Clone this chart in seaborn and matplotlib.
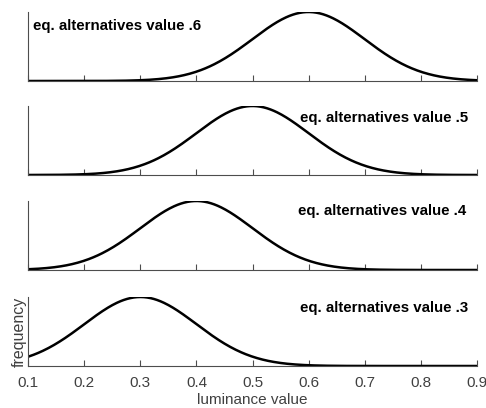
import numpy as np
import pandas as pd
import matplotlib
matplotlib.use("Agg")
import matplotlib.pyplot as plt
import seaborn as sns

# Equal-alternatives conditions: mean luminance of each distribution
alt_values = [0.6, 0.5, 0.4, 0.3]
alt_labels = ["eq. alternatives value .6", "eq. alternatives value .5",
              "eq. alternatives value .4", "eq. alternatives value .3"]
spread_sd = 0.1
x_ticks = [0.1, 0.2, 0.3, 0.4, 0.5, 0.6, 0.7, 0.8, 0.9]
x_ticklabels = ["0.1", "0.2", "0.3", "0.4", "0.5", "0.6", "0.7", "0.8", "0.9"]

sns.set_style("white")
plt.rcParams["font.family"] = ["Liberation Sans", "DejaVu Sans"]

lum = np.linspace(0.1, 0.9, 401)
frames = []
for v, lab in zip(alt_values, alt_labels):
    dens = np.exp(-0.5 * ((lum - v) / spread_sd) ** 2) / (spread_sd * np.sqrt(2 * np.pi))
    frames.append(pd.DataFrame({"luminance": lum, "frequency": dens, "cond": lab}))
df = pd.concat(frames, ignore_index=True)

fig = plt.figure(figsize=(4.86, 4.08), dpi=100)
W, H = 486, 408
left, right = 28.3 / W, 476.7 / W
panels = [(12, 81), (106, 175), (201, 270), (297, 366)]
# label placement: (x, y, ha)
label_pos = [(0.011, 0.80, "left"), (0.981, 0.83, "right"),
             (0.976, 0.85, "right"), (0.981, 0.84, "right")]

spine_col = "#4d4d4d"
for i, ((top, bot), lab) in enumerate(zip(panels, alt_labels)):
    ax = fig.add_axes([left, 1 - bot / H, right - left, (bot - top) / H])
    sub = df[df["cond"] == lab]
    sns.lineplot(data=sub, x="luminance", y="frequency", ax=ax,
                 color="black", linewidth=1.8)
    ax.set_xlim(0.1, 0.9)
    ax.set_ylim(0, sub["frequency"].max())
    ax.set_xticks(x_ticks)
    ax.set_yticks([])
    ax.tick_params(axis="x", direction="in", length=4, width=0.8, bottom=True,
                   colors=spine_col, labelcolor="#404040", labelsize=11, pad=7)
    for s in ["top", "right"]:
        ax.spines[s].set_visible(False)
    for s in ["left", "bottom"]:
        ax.spines[s].set_color(spine_col)
        ax.spines[s].set_linewidth(0.8)
    ax.set_ylabel("")
    ax.set_xlabel("")
    lx, ly, ha = label_pos[i]
    ax.text(lx, ly, lab, transform=ax.transAxes, ha=ha, va="center",
            fontsize=10.8, fontweight="bold", color="black")
    if i < 3:
        ax.set_xticklabels([])
    else:
        ax.set_xticklabels(x_ticklabels)
        ax.set_xlabel("luminance value", fontsize=11, color="#404040", labelpad=2)
        ax.set_ylabel("frequency", fontsize=11.5, color="#404040", labelpad=1)
    ax.patch.set_visible(False)

fig.savefig("out.png", dpi=100)
